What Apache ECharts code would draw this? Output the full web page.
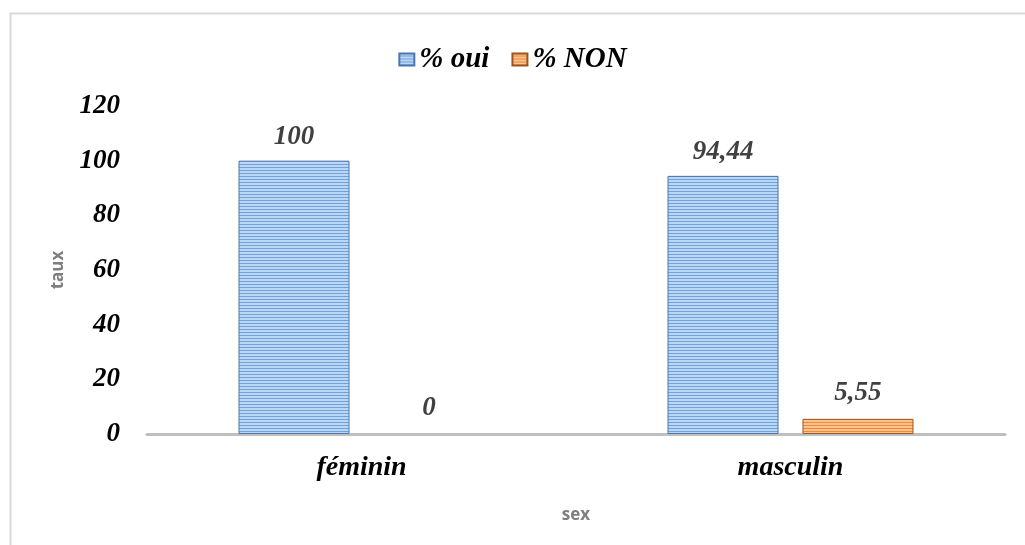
<!DOCTYPE html>
<html>
<head>
<meta charset="utf-8">
<script src="https://cdn.jsdelivr.net/npm/echarts@6/dist/echarts.min.js"></script>
<style>
  html, body { margin: 0; padding: 0; background: #fff; }
  #chart { width: 1025px; height: 545px; }
</style>
</head>
<body>
<div id="chart"></div>
<script>
// Response rates by sex
const categories = ['féminin', 'masculin'];
const seriesNames = ['% oui', '% NON'];
const ouiValues = [100, 94.44];
const nonValues = [0, 5.55];
const yTicks = { min: 0, max: 120, interval: 20 };

// Horizontal striped fill, like a lined texture
function stripes(light, dark) {
  const c = document.createElement('canvas');
  c.width = 4; c.height = 3;
  const g = c.getContext('2d');
  g.fillStyle = light; g.fillRect(0, 0, 4, 2);
  g.fillStyle = dark; g.fillRect(0, 2, 4, 1);
  return { image: c, repeat: 'repeat' };
}

const blueFill = stripes('#bad7f5', '#72a0d8');
const orangeFill = stripes('#fbc48f', '#ee873a');

const serif = '"Liberation Serif", "Times New Roman", serif';
const comma = p => String(p.value).replace('.', ',');

// Zero-height bars get no outline
const asItems = vals => vals.map(v => v === 0 ? { value: v, itemStyle: { borderWidth: 0 } } : v);

const labelStyle = {
  show: true,
  position: 'top',
  distance: 10,
  formatter: comma,
  fontFamily: serif,
  fontStyle: 'italic',
  fontWeight: 'bold',
  fontSize: 27,
  color: '#404040'
};

const chart = echarts.init(document.getElementById('chart'), null, { renderer: 'canvas' });
chart.setOption({
  backgroundColor: '#ffffff',
  animation: false,
  graphic: [{
    type: 'rect',
    shape: { x: 10.5, y: 13.5, width: 1100, height: 600 },
    style: { fill: 'none', stroke: '#d9d9d9', lineWidth: 2 },
    silent: true
  }],
  legend: {
    top: 40,
    left: 'center',
    itemWidth: 15,
    itemHeight: 12,
    itemGap: 22,
    icon: 'rect',
    textStyle: {
      fontFamily: serif,
      fontStyle: 'italic',
      fontWeight: 'bold',
      fontSize: 29,
      color: '#000'
    },
    data: seriesNames
  },
  grid: { left: 147, right: 20, top: 106, bottom: 111 },
  xAxis: {
    type: 'category',
    data: categories,
    name: 'sex',
    nameLocation: 'middle',
    nameGap: 73,
    nameTextStyle: { fontFamily: '"Open Sans", sans-serif', fontWeight: 'bold', fontSize: 17, color: '#7f7f7f' },
    axisLine: { lineStyle: { color: '#bfbfbf', width: 3 } },
    axisTick: { show: false },
    axisLabel: {
      margin: 20,
      fontFamily: serif,
      fontStyle: 'italic',
      fontWeight: 'bold',
      fontSize: 28,
      color: '#000'
    }
  },
  yAxis: {
    type: 'value',
    min: yTicks.min,
    max: yTicks.max,
    interval: yTicks.interval,
    name: 'taux',
    nameLocation: 'middle',
    nameGap: 80,
    nameRotate: 90,
    nameTextStyle: { fontFamily: '"Open Sans", sans-serif', fontWeight: 'bold', fontSize: 17, color: '#7f7f7f' },
    axisLine: { show: false },
    axisTick: { show: false },
    splitLine: { show: false },
    axisLabel: {
      margin: 27,
      fontFamily: serif,
      fontStyle: 'italic',
      fontWeight: 'bold',
      fontSize: 27,
      color: '#000'
    }
  },
  series: [
    {
      name: seriesNames[0],
      type: 'bar',
      data: asItems(ouiValues),
      barWidth: 111,
      barGap: '21.6%',
      itemStyle: { color: blueFill, borderColor: '#4a76ad', borderWidth: 1 },
      label: labelStyle
    },
    {
      name: seriesNames[1],
      type: 'bar',
      data: asItems(nonValues),
      barWidth: 111,
      itemStyle: { color: orangeFill, borderColor: '#9c5520', borderWidth: 1 },
      label: Object.assign({}, labelStyle, { distance: 12 })
    }
  ]
});
</script>
</body>
</html>
